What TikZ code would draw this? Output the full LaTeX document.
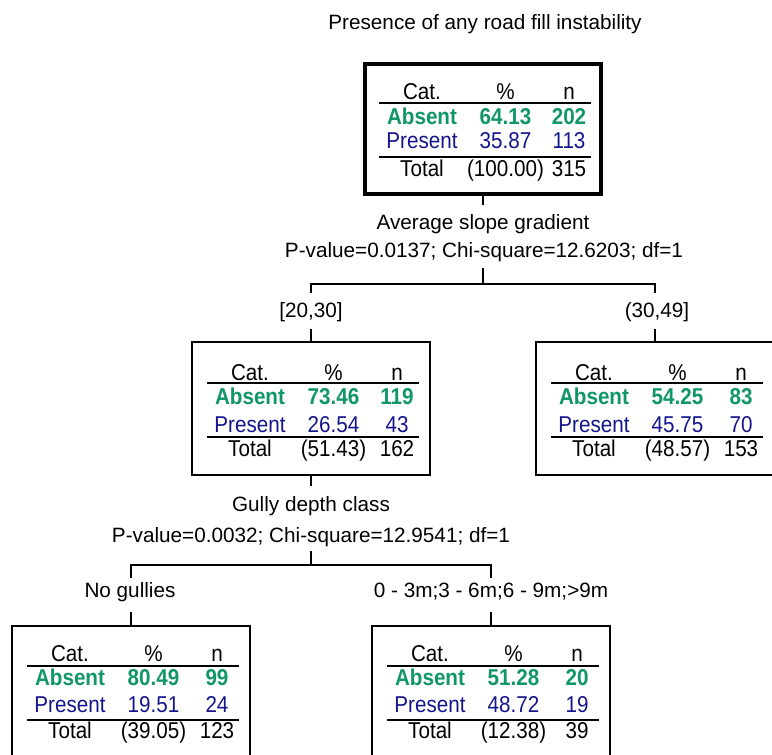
\documentclass[tikz,border=0pt]{standalone}
\usepackage{fontspec}
\setmainfont{Liberation Sans}
% table text: taller, slightly condensed
\newfontfamily\tabfont[FakeStretch=0.9]{Liberation Sans}
\definecolor{absentgreen}{RGB}{16,150,104}
\definecolor{presentblue}{RGB}{20,20,140}

% column offsets (from the box centre) and rule extent
\def\colA{-61}
\def\colB{22.5}
\def\colC{86}
\def\ruleL{-104}
\def\ruleR{108}

% row baselines measured down from the top edge of a box
\newcommand\setrows[6]{%
  \def\rowCat{#1}\def\rowRuleA{#2}\def\rowAbs{#3}%
  \def\rowPre{#4}\def\rowRuleB{#5}\def\rowTot{#6}}

% category table inside box #1
\newcommand\cattable[7]{%
  \begin{scope}[shift={(#1.north)}]
    \node[cell] (#1-hcat) at (\colA,\rowCat) {Cat.};
    \node[cell] (#1-hpct) at (\colB,\rowCat) {\%};
    \node[cell] (#1-hn)   at (\colC,\rowCat) {n};
    \draw[rule] (\ruleL,\rowRuleA) -- (\ruleR,\rowRuleA);
    \node[absentcell] (#1-acat) at (\colA,\rowAbs) {Absent};
    \node[absentcell] (#1-apct) at (\colB,\rowAbs) {#2};
    \node[absentcell] (#1-an)   at (\colC,\rowAbs) {#3};
    \node[presentcell] (#1-pcat) at (\colA,\rowPre) {Present};
    \node[presentcell] (#1-ppct) at (\colB,\rowPre) {#4};
    \node[presentcell] (#1-pn)   at (\colC,\rowPre) {#5};
    \draw[rule] (\ruleL,\rowRuleB) -- (\ruleR,\rowRuleB);
    \node[cell] (#1-tcat) at (\colA,\rowTot) {Total};
    \node[cell] (#1-tpct) at (\colB,\rowTot) {#6};
    \node[cell] (#1-tn)   at (\colC,\rowTot) {#7};
  \end{scope}}

\begin{document}
\begin{tikzpicture}[x=1bp,y=-1bp,
  every node/.style={font=\fontsize{20.8}{24}\selectfont, inner sep=0pt, outer sep=0pt},
  lbl/.style={anchor=base},
  cell/.style={anchor=base, font=\tabfont\fontsize{23}{26}\selectfont},
  absentcell/.style={anchor=base, text=absentgreen, font=\tabfont\fontsize{23}{26}\selectfont\bfseries},
  presentcell/.style={anchor=base, text=presentblue, font=\tabfont\fontsize{23}{26}\selectfont},
  rootbox/.style={draw, line width=4bp, minimum width=236bp, minimum height=130bp},
  cellbox/.style={draw, line width=2bp, minimum width=238bp, minimum height=133bp},
  conn/.style={line width=2bp},
  rule/.style={line width=2bp}]

\useasboundingbox (0,0) rectangle (772,755);
\clip (0,0) rectangle (772,755);

% title
\node[lbl] (title) at (485,30) {Presence of any road fill instability};

% boxes
\node[rootbox] (root)  at (483,129) {};
\node[cellbox] (left)  at (311,408.5) {};
\node[cellbox] (right) at (655,408.5) {};
\node[cellbox] (bl)    at (131,692) {};
\node[cellbox] (br)    at (491,692) {};

% tables
\setrows{36}{39}{61}{85}{93}{112}
\cattable{root}{64.13}{202}{35.87}{113}{(100.00)}{315}
\setrows{38}{41}{62}{90}{95}{114}
\cattable{left}{73.46}{119}{26.54}{43}{(51.43)}{162}
\cattable{right}{54.25}{83}{45.75}{70}{(48.57)}{153}
\setrows{36}{40.5}{60}{87}{94}{113}
\cattable{bl}{80.49}{99}{19.51}{24}{(39.05)}{123}
\cattable{br}{51.28}{20}{48.72}{19}{(12.38)}{39}

% first split
\node[lbl] (split1) at (483,229) {Average slope gradient};
\node[lbl] (stat1)  at (484,257) {P-value=0.0137; Chi-square=12.6203; df=1};
\node[lbl] (e11) at (311,317) {[20,30]};
\node[lbl] (e12) at (657,317) {(30,49]};

\coordinate (root-stem) at (483,205);
\coordinate (fork1-top) at (483,268);
\coordinate (fork1)     at (483,284);
\coordinate (fork1-l)   at (311,293);
\coordinate (fork1-r)   at (655,293);
\coordinate (left-tick)  at (311,329);
\coordinate (right-tick) at (655,329);
\draw[conn] (root.south) -- (root-stem);
\draw[conn] (fork1-top) -- (fork1);
\draw[conn] (fork1-l) |- (fork1) -| (fork1-r);
\draw[conn] (left-tick) -- (left.north);
\draw[conn] (right-tick) -- (right.north);

% second split
\node[lbl] (split2) at (311,511) {Gully depth class};
\node[lbl] (stat2)  at (311,542) {P-value=0.0032; Chi-square=12.9541; df=1};
\node[lbl] (e21) at (130,597) {No gullies};
\node[lbl] (e22) at (491,597) {0 - 3m;3 - 6m;6 - 9m;>9m};

\coordinate (left-stem) at (311,486);
\coordinate (fork2-top) at (311,551);
\coordinate (fork2)     at (311,565);
\coordinate (fork2-l)   at (131,578);
\coordinate (fork2-r)   at (491,578);
\coordinate (bl-tick) at (131,612);
\coordinate (br-tick) at (491,612);
\draw[conn] (left.south) -- (left-stem);
\draw[conn] (fork2-top) -- (fork2);
\draw[conn] (fork2-l) |- (fork2) -| (fork2-r);
\draw[conn] (bl-tick) -- (bl.north);
\draw[conn] (br-tick) -- (br.north);
\end{tikzpicture}
\end{document}
